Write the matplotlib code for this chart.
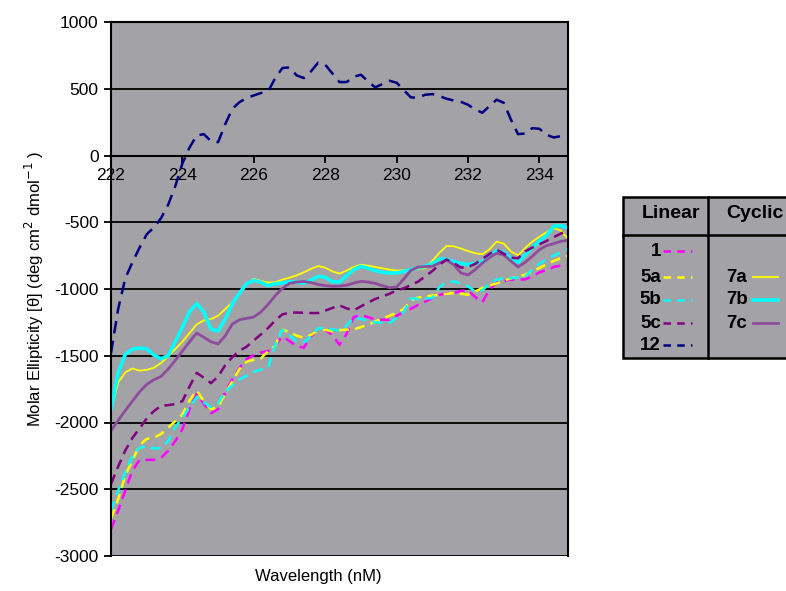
import matplotlib
matplotlib.use("Agg")
import matplotlib.pyplot as plt
from matplotlib.patches import Rectangle
from matplotlib.lines import Line2D

plt.rcParams['font.family'] = ['Liberation Sans', 'DejaVu Sans']
plt.rcParams['axes.unicode_minus'] = False

wavelength = [222.0, 222.2, 222.4, 222.6, 222.8, 223.0, 223.2, 223.4, 223.6, 223.8,
              224.0, 224.2, 224.4, 224.6, 224.8, 225.0, 225.2, 225.4, 225.6, 225.8,
              226.0, 226.2, 226.4, 226.6, 226.8, 227.0, 227.2, 227.4, 227.6, 227.8,
              228.0, 228.2, 228.4, 228.6, 228.8, 229.0, 229.2, 229.4, 229.6, 229.8,
              230.0, 230.2, 230.4, 230.6, 230.8, 231.0, 231.2, 231.4, 231.6, 231.8,
              232.0, 232.2, 232.4, 232.6, 232.8, 233.0, 233.2, 233.4, 233.6, 233.8,
              234.0, 234.2, 234.4, 234.6, 234.8]

# linear peptides (dashed)
lin_1 = [-2800, -2660, -2510, -2360, -2280, -2280, -2280, -2265, -2212, -2140,
         -2050, -1900, -1785, -1860, -1930, -1900, -1775, -1675, -1590, -1525,
         -1495, -1476, -1465, -1420, -1357, -1390, -1428, -1440, -1355, -1305,
         -1305, -1345, -1418, -1335, -1210, -1196, -1210, -1230, -1230, -1230,
         -1200, -1172, -1148, -1120, -1095, -1068, -1043, -1035, -1030, -1015,
         -1010, -1060, -1100, -1005, -950, -940, -930, -930, -928, -905,
         -875, -858, -835, -825, -818]
lin_5a = [-2720, -2575, -2395, -2285, -2170, -2122, -2115, -2086, -2040, -1990,
          -1940, -1835, -1760, -1840, -1900, -1885, -1785, -1690, -1598, -1545,
          -1530, -1520, -1465, -1425, -1305, -1322, -1350, -1365, -1345, -1310,
          -1305, -1318, -1308, -1305, -1303, -1285, -1268, -1243, -1222, -1200,
          -1180, -1150, -1085, -1065, -1056, -1050, -1043, -1036, -1031, -1036,
          -1043, -1018, -993, -975, -958, -940, -920, -905, -893, -868,
          -843, -815, -790, -770, -752]
lin_5b = [-2660, -2510, -2370, -2250, -2190, -2176, -2195, -2190, -2140, -2035,
          -1965, -1885, -1810, -1850, -1885, -1855, -1770, -1722, -1678, -1650,
          -1622, -1602, -1590, -1420, -1305, -1345, -1395, -1400, -1355, -1295,
          -1292, -1303, -1310, -1275, -1212, -1225, -1237, -1250, -1253, -1255,
          -1217, -1170, -1070, -1075, -1070, -1068, -985, -950, -943, -960,
          -980, -1018, -1010, -960, -930, -920, -918, -915, -905, -855,
          -810, -778, -750, -725, -700]
lin_5c = [-2460, -2330, -2210, -2115, -2045, -1970, -1915, -1875, -1870, -1862,
          -1840, -1730, -1628, -1665, -1705, -1655, -1570, -1510, -1462, -1432,
          -1385, -1340, -1292, -1235, -1190, -1178, -1176, -1178, -1180, -1180,
          -1162, -1142, -1123, -1145, -1160, -1130, -1102, -1075, -1056, -1036,
          -1010, -995, -970, -945, -905, -865, -818, -780, -805, -840,
          -835, -812, -775, -738, -705, -735, -765, -770, -718, -690,
          -665, -640, -612, -585, -560]
lin_12 = [-1480, -1150, -920, -800, -690, -590, -540, -470, -370, -230,
          -60, 60, 150, 160, 108, 100, 235, 350, 400, 430,
          450, 468, 480, 580, 655, 660, 600, 580, 630, 695,
          680, 615, 550, 550, 590, 605, 555, 510, 535, 560,
          545, 490, 435, 433, 455, 460, 445, 425, 412, 402,
          380, 345, 320, 370, 418, 395, 270, 160, 165, 205,
          200, 155, 135, 145, 158]

# cyclic peptides (solid)
cyc_7a = [-1910, -1700, -1625, -1595, -1612, -1605, -1590, -1555, -1505, -1450,
          -1395, -1330, -1265, -1235, -1225, -1200, -1150, -1100, -1035, -960,
          -925, -940, -952, -950, -930, -915, -898, -875, -850, -828,
          -840, -868, -885, -862, -835, -818, -825, -835, -845, -855,
          -862, -860, -856, -850, -843, -790, -728, -678, -680, -697,
          -716, -732, -740, -703, -645, -660, -718, -748, -693, -645,
          -608, -576, -544, -562, -625]
cyc_7b = [-1900, -1625, -1490, -1450, -1443, -1448, -1495, -1522, -1500, -1395,
          -1285, -1170, -1110, -1172, -1300, -1315, -1225, -1110, -1030, -960,
          -935, -950, -975, -960, -955, -945, -950, -955, -935, -905,
          -912, -945, -948, -900, -855, -830, -845, -862, -875, -880,
          -880, -868, -855, -840, -830, -810, -775, -778, -795, -808,
          -818, -808, -795, -755, -715, -725, -770, -800, -745, -690,
          -640, -600, -530, -525, -545]
cyc_7c = [-2060, -1985, -1910, -1840, -1770, -1715, -1680, -1655, -1600, -1535,
          -1465, -1395, -1330, -1362, -1395, -1412, -1350, -1262, -1230, -1220,
          -1210, -1172, -1115, -1050, -995, -958, -948, -944, -952, -966,
          -975, -980, -978, -972, -955, -943, -948, -958, -975, -990,
          -985, -925, -860, -836, -832, -830, -805, -782, -818, -880,
          -895, -855, -805, -765, -732, -745, -790, -835, -800, -755,
          -705, -675, -660, -643, -635]

linear_names = ['1', '5a', '5b', '5c', '12']
linear_colors = ['#ff00ff', '#ffff00', '#00ffff', '#800080', '#000080']
cyclic_names = ['7a', '7b', '7c']
cyclic_colors = ['#ffff00', '#00ffff', '#8e4c9c']
cyclic_widths = [1.3, 2.6, 2.0]

W, H = 786, 591
bg = '#a3a2a7'

fig = plt.figure(figsize=(W / 100, H / 100), dpi=100)
ax = fig.add_axes([111 / W, 1 - 556 / H, (568 - 111) / W, (556 - 22) / H])
ax.set_facecolor(bg)

for y, c, lw in zip([cyc_7a, cyc_7b, cyc_7c], cyclic_colors, cyclic_widths):
    ax.plot(wavelength, y, color=c, lw=lw, solid_joinstyle='round')
for y, c in zip([lin_1, lin_5a, lin_5b, lin_5c], linear_colors[:4]):
    ax.plot(wavelength, y, color=c, lw=1.8, dashes=(4, 2.5))
ax.plot(wavelength, lin_12, color=linear_colors[4], lw=1.8, dashes=(5, 3))

ax.set_xlim(222, 234.8)
ax.set_ylim(-3000, 1000)
ax.set_yticks(range(-3000, 1001, 500))
ax.set_xticks([222, 224, 226, 228, 230, 232, 234])
ax.yaxis.grid(True, color='black', lw=1.3)
ax.set_axisbelow(True)

ax.spines['bottom'].set_position(('data', 0))
for s in ax.spines.values():
    s.set_color('black')
    s.set_linewidth(1.5)
ax.tick_params(axis='both', direction='out', length=5, width=1.3, labelsize=12.5)
ax.tick_params(axis='x', pad=4)
ax.tick_params(axis='y', pad=4)

ax.set_ylabel('Molar Ellipticity [θ] (deg cm$^2$ dmol$^{-1}$ )', fontsize=12, labelpad=6)
fig.text(318 / W, 1 - 577 / H, 'Wavelength (nM)', fontsize=12, ha='center', va='center')


# legend table, drawn in figure pixels
def fx(px):
    return px / W


def fy(py):
    return 1 - py / H


tf = fig.transFigure
fig.add_artist(Rectangle((fx(623), fy(358)), fx(800) - fx(623), fy(197) - fy(358),
                         transform=tf, facecolor=bg, edgecolor='black', lw=1.8))
fig.add_artist(Line2D([fx(623), fx(800)], [fy(235), fy(235)], transform=tf, color='black', lw=1.8))
fig.add_artist(Line2D([fx(708), fx(708)], [fy(197), fy(358)], transform=tf, color='black', lw=1.8))
fig.text(fx(671), fy(213), 'Linear', fontsize=14, fontweight='bold', ha='center', va='center')
fig.text(fx(755), fy(213), 'Cyclic', fontsize=14, fontweight='bold', ha='center', va='center')

rows_y = [251, 277, 300, 323, 345]
for name, c, py in zip(linear_names, linear_colors, rows_y):
    fig.text(fx(661), fy(py), name, fontsize=13.5, fontweight='bold', ha='right', va='center')
    fig.add_artist(Line2D([fx(663), fx(692)], [fy(py), fy(py)], transform=tf,
                          color=c, lw=1.8, dashes=(3, 2.5)))
for name, c, lw, py in zip(cyclic_names, cyclic_colors, cyclic_widths, rows_y[1:4]):
    fig.text(fx(726), fy(py), name, fontsize=13.5, fontweight='bold', ha='left', va='center')
    fig.add_artist(Line2D([fx(753), fx(778)], [fy(py), fy(py)], transform=tf, color=c, lw=lw))

fig.savefig('out.png', dpi=100)
